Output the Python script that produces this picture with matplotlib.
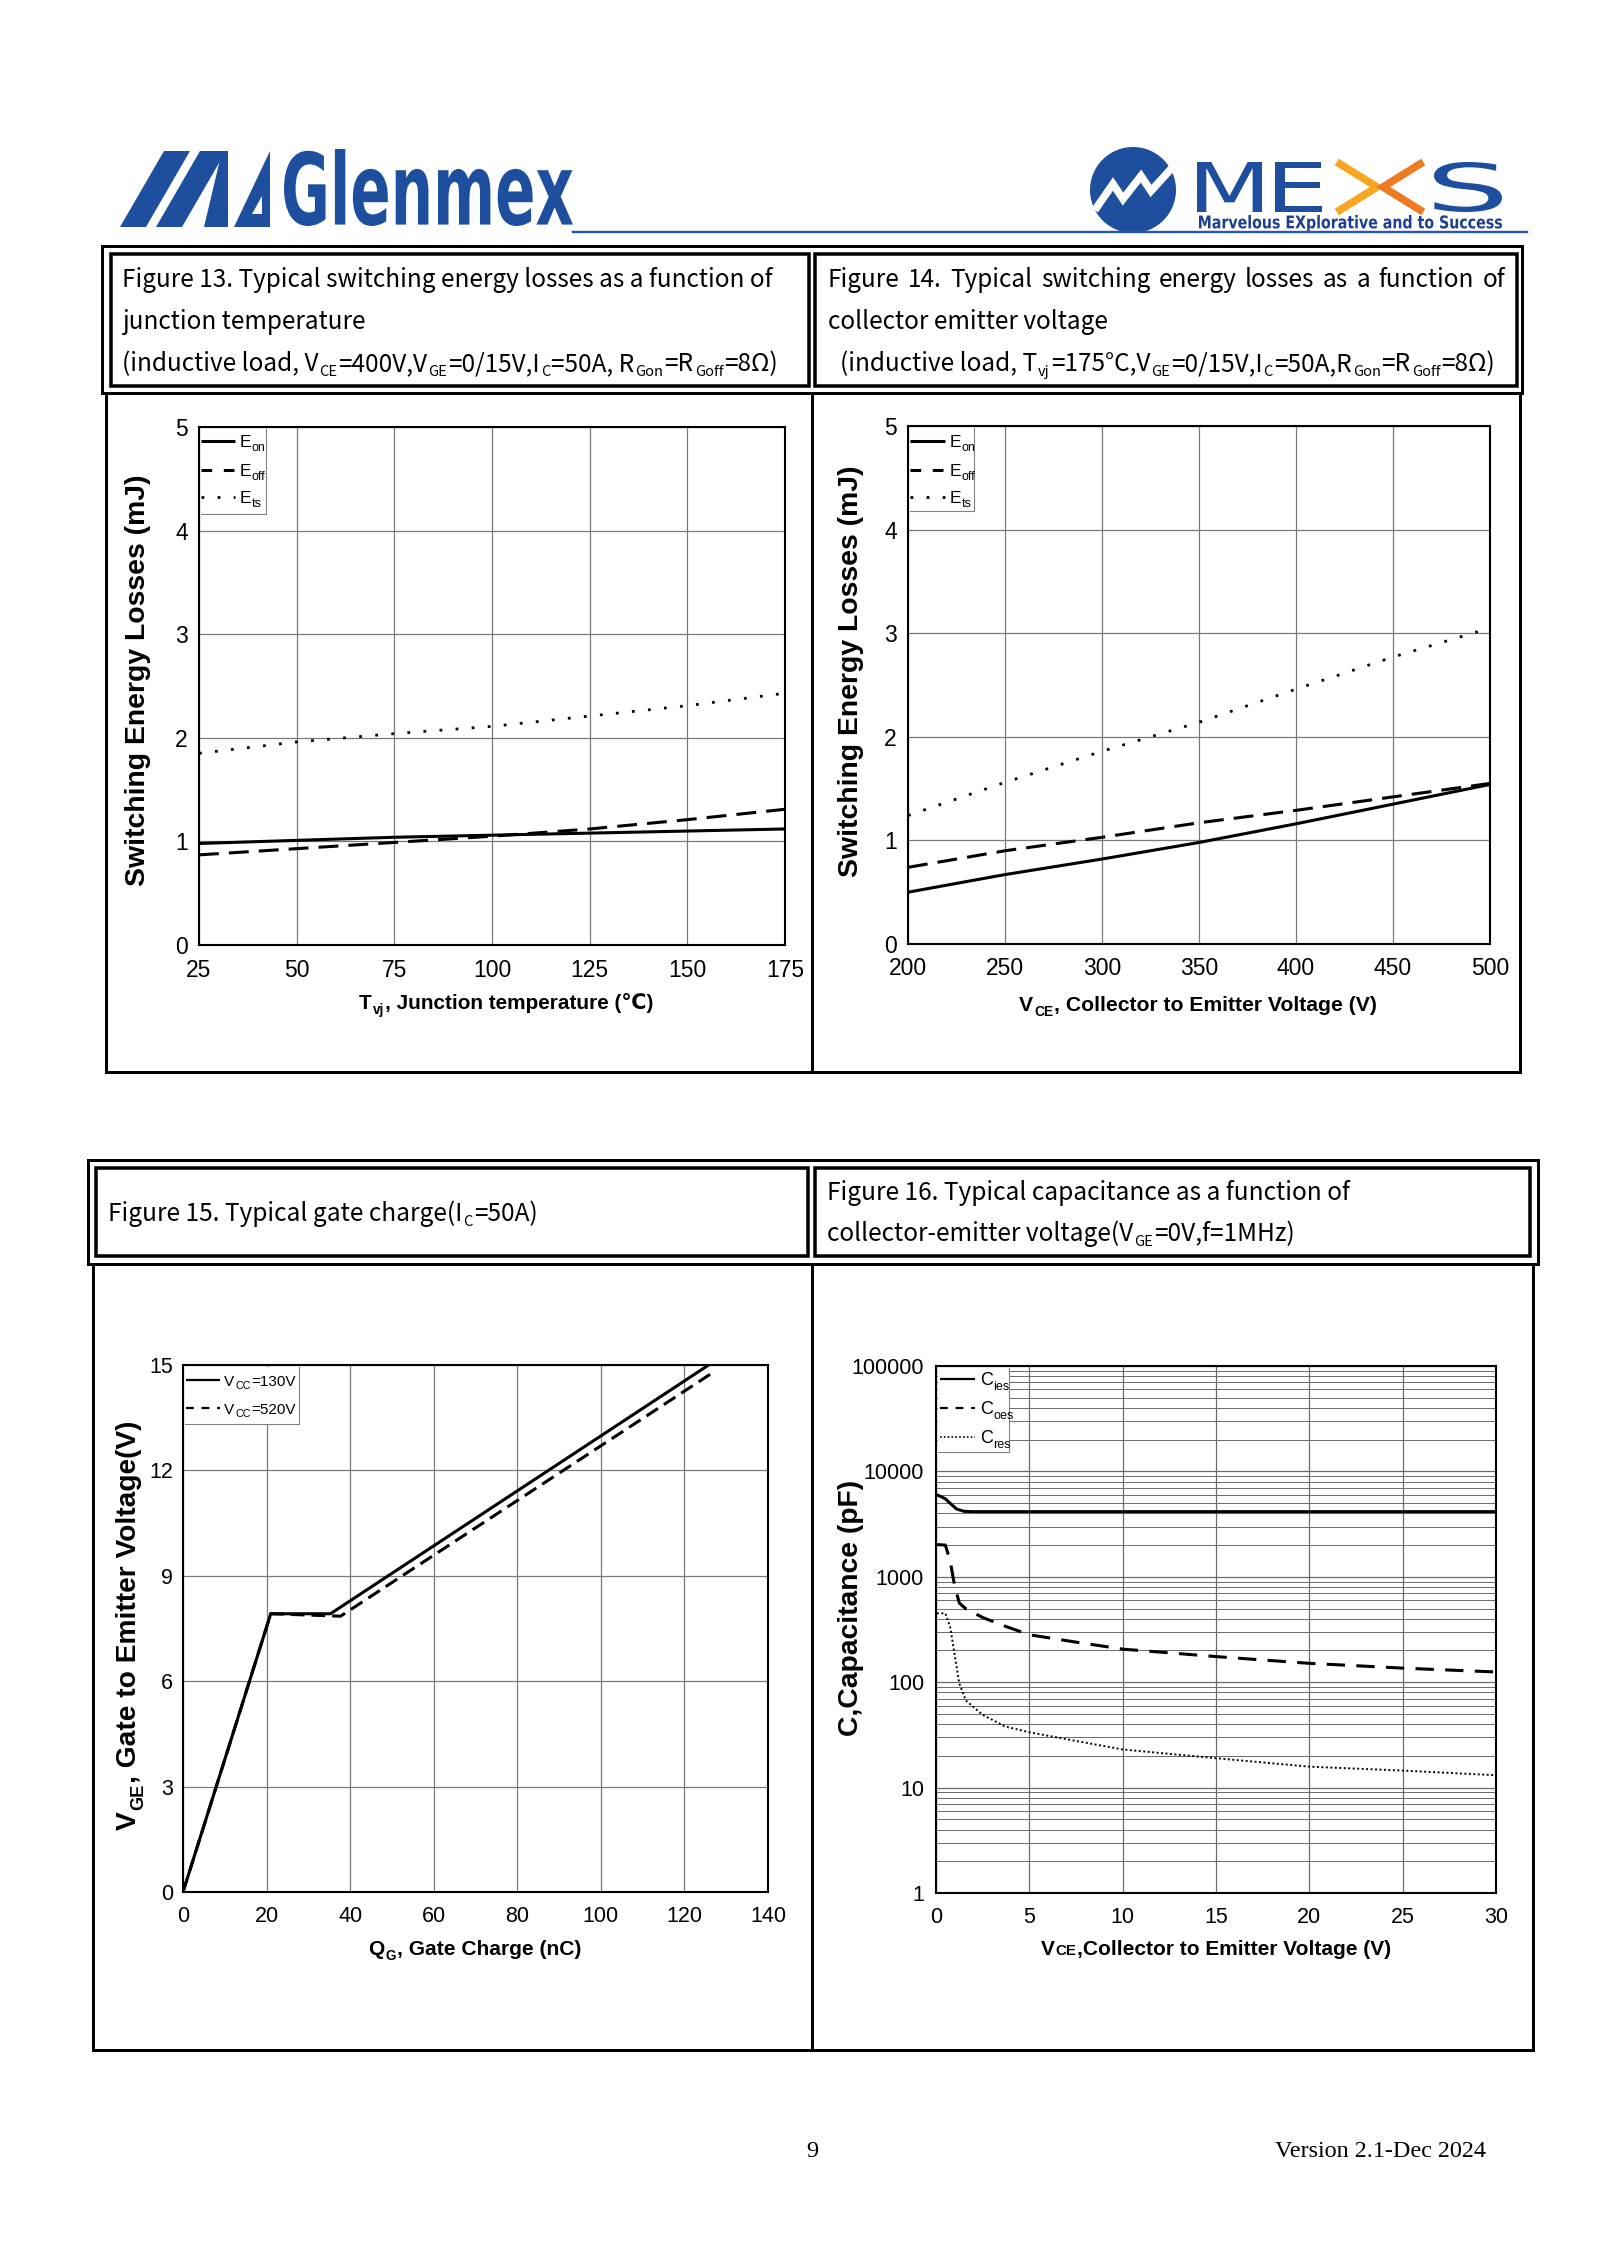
import matplotlib
matplotlib.use('Agg')
import matplotlib.pyplot as plt
from matplotlib import font_manager as fm
from matplotlib.patches import Rectangle, Polygon, Circle, PathPatch
from matplotlib.textpath import TextPath
from matplotlib.font_manager import FontProperties
from matplotlib.transforms import Affine2D
from matplotlib.ticker import LogLocator, NullFormatter

# ---------------- data ----------------
f13_tj = [25, 50, 75, 100, 125, 150, 175]
f13_eon = [0.98, 1.01, 1.04, 1.06, 1.08, 1.10, 1.12]
f13_eoff = [0.87, 0.93, 0.99, 1.05, 1.12, 1.21, 1.31]
f13_ets = [1.85, 1.96, 2.04, 2.11, 2.21, 2.31, 2.43]
f13_xticks = [25, 50, 75, 100, 125, 150, 175]
f13_yticks = [0, 1, 2, 3, 4, 5]

f14_vce = [200, 250, 300, 350, 400, 450, 500]
f14_eon = [0.50, 0.67, 0.82, 0.98, 1.16, 1.35, 1.54]
f14_eoff = [0.74, 0.90, 1.03, 1.17, 1.29, 1.42, 1.55]
f14_ets = [1.24, 1.56, 1.86, 2.14, 2.46, 2.77, 3.05]
f14_xticks = [200, 250, 300, 350, 400, 450, 500]
f14_yticks = [0, 1, 2, 3, 4, 5]

f15_qg_130 = [0, 21, 35.3, 125.8]
f15_vge_130 = [0, 7.92, 7.92, 15.0]
f15_qg_520 = [0, 21, 37.7, 127.5]
f15_vge_520 = [0, 7.92, 7.85, 14.84]
f15_xticks = [0, 20, 40, 60, 80, 100, 120, 140]
f15_yticks = [0, 3, 6, 9, 12, 15]

f16_vce_ies = [0.05, 0.5, 0.8, 1.1, 1.5, 2.0, 30]
f16_cies = [6000, 5500, 4900, 4400, 4180, 4150, 4150]
f16_vce = [0.05, 0.5, 0.75, 1.0, 1.25, 1.6, 2.5, 3.7, 5, 7.5, 10, 15, 20, 25, 30]
f16_coes = [2020, 2000, 1440, 820, 563, 497, 411, 340, 282, 240, 206, 175, 151, 136, 125]
f16_cres = [450, 450, 341, 182, 97, 67, 49, 38, 33.5, 27.7, 23, 19, 15.8, 14.5, 13.1]
f16_xticks = [0, 5, 10, 15, 20, 25, 30]
f16_yticks = [1, 10, 100, 1000, 10000, 100000]
f16_ylabels = ['1', '10', '100', '1000', '10000', '100000']

# ---------------- fonts ----------------
names = {f.name for f in fm.fontManager.ttflist}
HAS_NARROW = 'Liberation Sans Narrow' in names
NARROW = ['Liberation Sans Narrow' if HAS_NARROW else 'Liberation Sans', 'DejaVu Sans']
SANS = ['Liberation Sans', 'DejaVu Sans']
TITLE = ['Noto Sans CJK SC', 'DejaVu Sans']
SERIF = ['Liberation Serif', 'DejaVu Serif']
plt.rcParams['font.family'] = SANS

BLUE = '#1E4E9E'

W, H = 1600, 2263
fig = plt.figure(figsize=(W / 100, H / 100), dpi=100)
fig.patch.set_facecolor('white')
renderer = fig.canvas.get_renderer()


def add_ax(x0, y0, x1, y1, **kw):
    return fig.add_axes([x0 / W, 1 - y1 / H, (x1 - x0) / W, (y1 - y0) / H], **kw)


ov = fig.add_axes([0, 0, 1, 1], zorder=10)
ov.set_xlim(0, W)
ov.set_ylim(H, 0)
ov.axis('off')


def tw(s, size, family, weight='normal'):
    t = ov.text(0, 0, s, fontsize=size, family=family, weight=weight)
    w = t.get_window_extent(renderer).width
    t.remove()
    return w


def rich(x, y, parts, size, family, weight='normal', rotation=0, ha='left',
         fit=None, sub=0.65, drop=0.25, gap=1.0, color='k'):
    def widths(sz):
        return [tw(s, sz * (sub if k in 'sc' else 1), family, weight) for s, k in parts]
    ws = widths(size)
    tot = sum(ws) + gap * (len(parts) - 1)
    if fit:
        size = size * fit / tot
        ws = widths(size)
        tot = sum(ws) + gap * (len(parts) - 1)
    pos = {'left': 0, 'center': -tot / 2, 'right': -tot}[ha]
    for (s, k), w in zip(parts, ws):
        fs = size * (sub if k in 'sc' else 1)
        d = size * drop / 0.72 if k == 's' else 0
        if rotation == 0:
            tx, ty = x + pos, y + d
        else:
            tx, ty = x + d, y - pos
        ov.text(tx, ty, s, fontsize=fs, family=family, weight=weight, rotation=rotation,
                rotation_mode='anchor', ha='left', va='baseline', color=color)
        pos += w + gap
    return size


def fit_text(x, y, s, target, family, weight='normal', rotation=0, ha='center', va='center', size=None):
    if size is None:
        w = tw(s, 16, family, weight)
        size = 16 * target / w
    ov.text(x, y, s, fontsize=size, family=family, weight=weight, rotation=rotation, ha=ha, va=va)
    return size


def justify(x0, x1, y, text, size, family):
    words = text.split(' ')
    ws = [tw(w, size, family) for w in words]
    g = (x1 - x0 - sum(ws)) / (len(words) - 1)
    pos = x0
    for w, wd in zip(words, ws):
        ov.text(pos, y, w, fontsize=size, family=family, ha='left', va='baseline')
        pos += wd + g


def fit_path(s, x0, y0, x1, y1, family, weight, color):
    fp = FontProperties(family=family, weight=weight)
    tp = TextPath((0, 0), s, size=100, prop=fp)
    ext = tp.get_extents()
    tr = Affine2D().translate(-ext.x0, -ext.y0).scale((x1 - x0) / ext.width,
                                                       -(y1 - y0) / ext.height).translate(x0, y1)
    ov.add_patch(PathPatch(tr.transform_path(tp), facecolor=color, edgecolor='none', lw=0))


def rect(x0, y0, x1, y1, lw, **kw):
    ov.add_patch(Rectangle((x0, y0), x1 - x0, y1 - y0, fill=False, edgecolor='k',
                           lw=lw * 0.72, joinstyle='miter', **kw))


def pline(xs, ys, lw, color='k', **kw):
    ov.plot(xs, ys, color=color, lw=lw * 0.72, solid_joinstyle='miter', solid_capstyle='projecting', **kw)


# ---------------- header ----------------
# MG mark
for poly in ([(120, 227), (146, 227), (190, 151), (164, 151)],
             [(156, 227), (182, 227), (226, 151), (200, 151)],
             [(204, 227), (228, 227), (228, 151), (222, 151)],
             [(234, 227), (270, 227), (270, 151)]):
    ov.add_patch(Polygon(poly, closed=True, facecolor=BLUE, edgecolor='none'))
ov.add_patch(Polygon([(252, 214), (262, 214), (262, 196)], closed=True, facecolor='white', edgecolor='none'))
fit_path('Glenmex', 284, 149, 573, 226, 'DejaVu Sans', 'bold', BLUE)
pline([573, 1527], [232, 232], 2.4, color='#2A57A6')

# MEXS logo
ov.add_patch(Circle((1133, 190), 43, facecolor=BLUE, edgecolor='none'))
ov.plot([1097, 1113, 1123, 1141, 1151, 1170], [207, 184, 199, 176, 191, 170], color='white',
        lw=5.5, solid_joinstyle='miter')
fit_path('M', 1197, 162, 1262, 212, 'DejaVu Sans', 'normal', BLUE)
fit_path('E', 1275, 162, 1322, 212, 'DejaVu Sans', 'normal', BLUE)
ov.plot([1340, 1377, 1340], [164, 187, 210], color='#F6A623', lw=5.5, solid_joinstyle='miter')
ov.plot([1420, 1383, 1420], [164, 187, 210], color='#EE7A22', lw=5.5, solid_joinstyle='miter')
fit_path('S', 1434, 162, 1502, 212, 'DejaVu Sans', 'normal', BLUE)
fit_path('Marvelous EXplorative and to Success', 1199, 215, 1502, 232, 'DejaVu Sans', 'bold', '#1E3F8F')

# ---------------- frames ----------------
rect(102, 246, 1522, 393, 3)
rect(111, 254, 809, 386, 3.5)
rect(815, 254, 1517, 386, 3.5)
pline([106, 106, 1520, 1520], [393, 1072, 1072, 393], 3)
pline([812, 812], [393, 1072], 3)

rect(88, 1160, 1538, 1264, 3)
rect(96, 1168, 808, 1256, 3.5)
rect(815, 1168, 1530, 1256, 3.5)
pline([93, 93, 1533, 1533], [1264, 2050, 2050, 1264], 3)
pline([812, 812], [1264, 2050], 3)

# ---------------- titles ----------------
L13 = 'Figure 13. Typical switching energy losses as a function of'
tsz = 16 * 650 / tw(L13, 16, TITLE)
ov.text(122, 287, L13, fontsize=tsz, family=TITLE, va='baseline')
ov.text(122, 329, 'junction temperature', fontsize=tsz, family=TITLE, va='baseline')
rich(122, 371, [('(inductive load, V', 'n'), ('CE', 's'), ('=400V,V', 'n'), ('GE', 's'), ('=0/15V,I', 'n'),
                ('C', 's'), ('=50A, R', 'n'), ('Gon', 's'), ('=R', 'n'), ('Goff', 's'), ('=8Ω)', 'n')],
     tsz, TITLE, sub=0.6, drop=0.2)

justify(828, 1505, 287, 'Figure 14. Typical switching energy losses as a function of', tsz, TITLE)
ov.text(828, 329, 'collector emitter voltage', fontsize=tsz, family=TITLE, va='baseline')
rich(840, 371, [('(inductive load, T', 'n'), ('vj', 's'), ('=175°C,V', 'n'), ('GE', 's'), ('=0/15V,I', 'n'),
                ('C', 's'), ('=50A,R', 'n'), ('Gon', 's'), ('=R', 'n'), ('Goff', 's'), ('=8Ω)', 'n')],
     tsz, TITLE, sub=0.6, drop=0.2)

bsz = rich(108, 1221, [('Figure 15. Typical gate charge(I', 'n'), ('C', 's'), ('=50A)', 'n')],
           16, TITLE, fit=429, sub=0.6, drop=0.2)
ov.text(827, 1200, 'Figure 16. Typical capacitance as a function of', fontsize=bsz, family=TITLE, va='baseline')
rich(827, 1241, [('collector-emitter voltage(V', 'n'), ('GE', 's'), ('=0V,f=1MHz)', 'n')],
     bsz, TITLE, sub=0.6, drop=0.2)

# ---------------- charts ----------------
NSZ = 17.5 if HAS_NARROW else 16.5


def style(ax, xt, yt, font, size, xpad, ypad, gc='#7a7a7a'):
    ax.set_xticks(xt)
    ax.set_yticks(yt)
    ax.tick_params(which='both', length=0, labelsize=size, labelfontfamily=font)
    ax.tick_params(axis='x', pad=xpad)
    ax.tick_params(axis='y', pad=ypad)
    ax.grid(True, which='major', color=gc, lw=0.9)
    ax.set_axisbelow(True)
    for s in ax.spines.values():
        s.set_linewidth(1.5)
        s.set_color('black')


LW = 2.2
DASH = (0, (6.5, 3.3))
DOT = (0, (1, 4.8))

ax13 = add_ax(199, 427, 785, 945)
ax13.plot(f13_tj, f13_eon, color='k', lw=LW)
ax13.plot(f13_tj, f13_eoff, color='k', lw=LW, linestyle=DASH)
ax13.plot(f13_tj, f13_ets, color='k', lw=2.0, linestyle=DOT)
ax13.set_xlim(25, 175)
ax13.set_ylim(0, 5)
style(ax13, f13_xticks, f13_yticks, NARROW, NSZ, 10.0, 8.0)

ax14 = add_ax(908, 426, 1490, 944)
ax14.plot(f14_vce, f14_eon, color='k', lw=LW)
ax14.plot(f14_vce, f14_eoff, color='k', lw=LW, linestyle=DASH)
ax14.plot(f14_vce, f14_ets, color='k', lw=2.0, linestyle=DOT)
ax14.set_xlim(200, 500)
ax14.set_ylim(0, 5)
style(ax14, f14_xticks, f14_yticks, NARROW, NSZ, 9.5, 8.0)

ax15 = add_ax(183, 1365, 768, 1892)
ax15.plot(f15_qg_520, f15_vge_520, color='k', lw=LW, linestyle=(0, (4.5, 2.3)))
ax15.plot(f15_qg_130, f15_vge_130, color='k', lw=LW)
ax15.set_xlim(0, 140)
ax15.set_ylim(0, 15)
style(ax15, f15_xticks, f15_yticks, SANS, 15.5, 10.4, 7.2)

ax16 = add_ax(936, 1366, 1496, 1893)
ax16.plot(f16_vce_ies, f16_cies, color='k', lw=LW)
ax16.plot(f16_vce, f16_coes, color='k', lw=LW, linestyle=(0, (6, 3.7)))
ax16.plot(f16_vce, f16_cres, color='k', lw=1.4, linestyle=(0, (1, 1.3)))
ax16.set_yscale('log')
ax16.set_xlim(0, 30)
ax16.set_ylim(1, 100000)
style(ax16, f16_xticks, f16_yticks, SANS, 15.5, 10.4, 8.6, gc='#6a6a6a')
ax16.set_yticklabels(f16_ylabels)
ax16.yaxis.set_minor_locator(LogLocator(base=10, subs=range(2, 10), numticks=20))
ax16.yaxis.set_minor_formatter(NullFormatter())
ax16.grid(True, which='minor', axis='y', color='#6a6a6a', lw=0.7)

# ---------------- axis labels ----------------
ysz = fit_text(138, 680, 'Switching Energy Losses (mJ)', 410, SANS, 'bold', rotation=90)
fit_text(851, 671, 'Switching Energy Losses (mJ)', 0, SANS, 'bold', rotation=90, size=ysz)
rich(506, 1009, [('T', 'n'), ('vj', 's'), (', Junction temperature (℃)', 'n')], 16, NARROW, 'bold',
     ha='center', fit=294)
rich(1198, 1011, [('V', 'n'), ('CE', 's'), (', Collector to Emitter Voltage (V)', 'n')], 16, NARROW, 'bold',
     ha='center', fit=358)
rich(136, 1625, [('V', 'n'), ('GE', 's'), (', Gate to Emitter Voltage(V)', 'n')], 16, NARROW, 'bold',
     rotation=90, ha='center', fit=410)
rich(475, 1955, [('Q', 'n'), ('G', 's'), (', Gate Charge (nC)', 'n')], 16, NARROW, 'bold',
     ha='center', fit=213)
fit_text(851, 1608, 'C,Capacitance (pF)', 255, SANS, 'bold', rotation=90)
rich(1216, 1955, [('V', 'n'), ('CE', 'c'), (',Collector to Emitter Voltage (V)', 'n')], 16, NARROW, 'bold',
     ha='center', fit=350, sub=0.72)


# ---------------- legends ----------------
def legend_box(x0, y0, x1, y1):
    ov.add_patch(Rectangle((x0 + 1.5, y0 + 1.5), x1 - x0 - 1.5, y1 - y0 - 1.5, facecolor='white',
                           edgecolor='none', zorder=1))
    ov.plot([x1, x1, x0 + 1.5], [y0 + 1.5, y1, y1], color='#808080', lw=0.8, zorder=2)


def legend_line(x0, x1, y, ls, lw):
    ov.plot([x0, x1], [y, y], color='k', lw=lw, linestyle=ls, solid_capstyle='butt',
            dash_capstyle='butt', zorder=3)


LSZ = 13.5 if HAS_NARROW else 12.5
for (ax0, ay0, ax1, ay1, lx0, lx1, tx) in ((199, 427, 266, 514, 201, 235, 240),
                                          (908, 426, 974, 511, 910, 945, 950)):
    legend_box(ax0, ay0, ax1, ay1)
    rows = [(447, '-', LW, 'on'), (476, (0, (3.5, 3.8)), LW, 'off'), (503, (0, (1, 4.8)), 2.0, 'ts')]
    for (by, ls, lw, sub) in rows:
        legend_line(lx0, lx1, by - 6.5, ls, lw)
        rich(tx, by, [('E', 'n'), (sub, 's')], LSZ, NARROW, sub=0.72, drop=0.25, gap=0.5)

legend_box(183, 1365, 299, 1424)
legend_line(186, 220, 1380, '-', 1.6)
legend_line(186, 220, 1408, (0, (3.5, 3.5)), 1.6)
lsz15 = rich(224, 1386, [('V', 'n'), ('CC', 's'), ('=130V', 'n')], 12, SANS, fit=72, sub=0.7, drop=0.22)
rich(224, 1414, [('V', 'n'), ('CC', 's'), ('=520V', 'n')], lsz15, SANS, sub=0.7, drop=0.22)

legend_box(936, 1366, 1009, 1452)
legend_line(940, 975, 1379, '-', 1.6)
legend_line(940, 975, 1408, (0, (3.5, 3.5)), 1.6)
legend_line(940, 975, 1437, (0, (1, 1.3)), 1.2)
for by, sub in ((1385, 'ies'), (1414, 'oes'), (1443, 'res')):
    rich(980, by, [('C', 'n'), (sub, 's')], 13, NARROW, sub=0.7, drop=0.25, gap=0.5)

# ---------------- footer ----------------
ov.text(812, 2157, '9', fontsize=17.5, family=SERIF, ha='center', va='baseline')
fit_text(1275, 2157, 'Version 2.1-Dec 2024', 211, SERIF, ha='left', va='baseline')

fig.savefig('out.png', dpi=100, facecolor='white')
